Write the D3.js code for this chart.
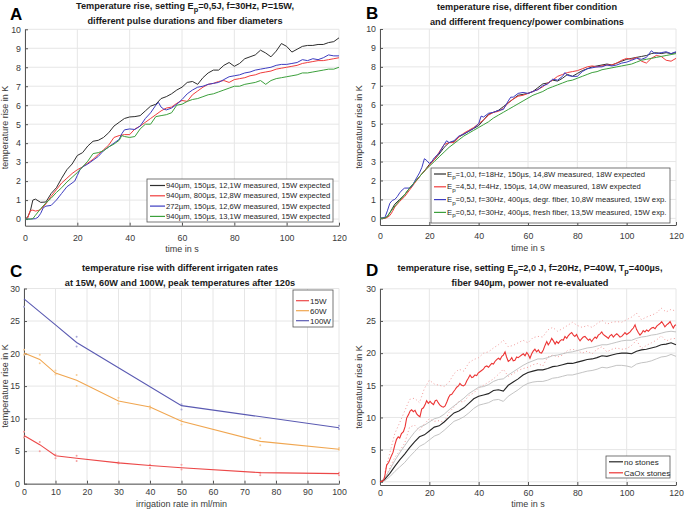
<!DOCTYPE html>
<html><head><meta charset="utf-8">
<script src="https://cdn.jsdelivr.net/npm/d3@7"></script>
<style>body{margin:0;background:#fff} text{font-family:"Liberation Sans",Arial,Helvetica,sans-serif}</style>
</head><body><svg id="c" width="685" height="510"></svg>
<script>
// ---------- DATA ----------
const timeTicks = [0,20,40,60,80,100,120];
const tempTicksAB = [0,1,2,3,4,5,6,7,8,9,10];
const tempTicksCD = [0,5,10,15,20,25,30];
const rateTicks = [0,10,20,30,40,50,60,70,80,90,100];

// Panel A
const aBlack = [[0,0],[1,0.1],[2,0.4],[3,1.0],[4,1.05],[6,0.88],[8,0.9],[10,1.35],[12,1.65],[14,2.15],[16,2.6],[18,2.9],[20,3.35],[22,3.5],[24,3.85],[26,4.1],[28,4.15],[30,4.3],[32,4.55],[34,4.9],[36,5.1],[38,5.3],[40,5.38],[42,5.4],[44,5.45],[46,5.7],[48,5.95],[50,6.05],[52,6.35],[54,6.45],[56,6.6],[58,6.8],[60,6.95],[62,7.2],[64,7.25],[66,7.1],[68,7.45],[70,7.7],[72,7.85],[74,7.85],[76,8.1],[78,8.25],[80,8.05],[82,8.2],[84,8.45],[86,8.55],[88,8.65],[90,8.9],[92,8.75],[94,8.55],[96,8.85],[98,9.25],[100,9.1],[102,8.8],[104,8.95],[106,9.1],[108,9.15],[110,9.15],[112,9.2],[114,9.2],[116,9.3],[118,9.35],[120,9.55]];
const aRed = [[0,0],[1,0.05],[2,0.45],[3,0.47],[4,0.42],[5,0.45],[6,0.5],[8,0.8],[10,1.2],[12,1.55],[14,1.9],[16,2.15],[18,2.4],[20,2.6],[22,2.75],[24,2.95],[26,3.15],[28,3.4],[30,3.65],[32,3.9],[34,4.3],[36,4.4],[38,4.45],[40,4.45],[42,4.75],[44,4.9],[46,5.1],[48,5.3],[50,5.5],[52,5.7],[54,5.85],[56,5.9],[58,6.1],[60,6.25],[62,6.2],[64,6.55],[66,6.75],[68,6.95],[70,7.1],[72,7.15],[74,7.25],[76,7.3],[78,7.2],[80,7.35],[82,7.4],[84,7.45],[86,7.55],[88,7.6],[90,7.7],[92,7.75],[94,7.8],[96,7.9],[98,7.95],[100,8.0],[102,8.05],[104,8.1],[106,8.2],[108,8.25],[110,8.3],[112,8.35],[114,8.35],[116,8.4],[118,8.45],[120,8.5]];
const aBlue = [[0,0],[2,0],[4,0.02],[5,0.1],[6,0.3],[7,0.6],[8,0.68],[10,0.72],[12,1.0],[14,1.35],[16,1.7],[18,1.9],[19,2.0],[20,2.3],[21,2.6],[22,2.75],[24,2.9],[26,3.1],[28,3.3],[30,3.6],[32,3.8],[34,4.0],[36,4.2],[37,4.5],[38,4.7],[40,4.75],[42,4.72],[44,4.9],[46,5.3],[48,5.6],[50,6.0],[51,6.15],[52,5.9],[53,5.8],[54,5.75],[56,5.85],[58,6.05],[60,6.3],[62,6.6],[64,6.8],[66,6.95],[68,7.0],[70,7.1],[72,7.15],[74,7.2],[76,7.35],[78,7.5],[80,7.55],[82,7.6],[84,7.7],[86,7.75],[88,7.85],[90,7.9],[92,7.95],[94,8.0],[96,8.1],[98,8.15],[100,8.15],[102,8.2],[104,8.25],[106,8.4],[108,8.35],[110,8.45],[112,8.4],[114,8.5],[116,8.65],[118,8.6],[120,8.6]];
const aGreen = [[0,0],[2,0],[3,0.02],[4,0.2],[6,0.55],[8,0.85],[10,1.1],[12,1.4],[14,1.65],[16,1.95],[18,2.2],[20,2.45],[22,2.75],[24,3.05],[26,3.45],[28,3.5],[30,3.6],[32,3.8],[34,3.95],[36,4.15],[37,4.4],[38,4.35],[40,4.3],[42,4.35],[44,4.75],[46,5.0],[48,5.0],[50,5.4],[52,5.45],[54,5.5],[56,5.6],[58,6.0],[60,6.05],[62,6.2],[64,6.3],[66,6.35],[68,6.45],[70,6.55],[72,6.6],[74,6.7],[76,6.8],[78,6.9],[80,7.0],[82,7.0],[84,7.1],[86,7.15],[88,7.2],[90,7.3],[92,7.1],[94,7.3],[96,7.4],[98,7.45],[100,7.5],[102,7.55],[104,7.6],[106,7.7],[108,7.7],[110,7.75],[112,7.8],[114,7.85],[116,7.9],[118,7.9],[120,8.0]];
const aLabels = ["940µm, 150µs, 12,1W measured, 15W expected","940µm, 800µs, 12,8W measured, 15W expected","272µm, 150µs, 12,6W measured, 15W expected","940µm, 150µs, 13,1W measured, 15W expected"];

// Panel B
const bBlack = [[0,0],[2,0.02],[3,0.1],[4,0.3],[6,0.75],[8,1.0],[10,1.25],[12,1.6],[14,1.9],[16,2.2],[18,2.5],[20,2.85],[22,3.1],[24,3.4],[26,3.75],[28,4.0],[30,4.05],[32,4.3],[34,4.45],[36,4.6],[38,4.75],[40,4.9],[42,5.2],[44,5.5],[46,5.6],[48,5.7],[50,5.9],[52,6.1],[54,6.3],[56,6.5],[58,6.55],[60,6.6],[62,6.7],[64,6.9],[66,7.1],[68,7.15],[70,7.3],[72,7.25],[74,7.4],[76,7.6],[78,7.5],[80,7.65],[82,7.8],[84,7.9],[86,8.0],[88,8.05],[90,8.1],[92,8.15],[94,8.1],[96,8.2],[98,8.3],[100,8.4],[102,8.45],[104,8.5],[106,8.55],[108,8.6],[110,8.7],[112,8.75],[114,8.7],[116,8.75],[118,8.7],[120,8.75]];
const bRed = [[0,0],[2,0],[3,0.05],[4,0.15],[5,0.35],[6,0.6],[8,0.9],[10,1.15],[12,1.5],[14,1.85],[16,2.2],[18,2.5],[20,2.8],[22,3.1],[24,3.5],[26,3.9],[28,4.0],[30,4.0],[32,4.3],[34,4.5],[36,4.65],[38,4.8],[40,5.0],[42,5.2],[44,5.45],[46,5.6],[48,5.65],[50,5.8],[52,6.1],[54,6.3],[56,6.45],[58,6.5],[60,6.6],[62,6.7],[64,6.8],[66,6.95],[68,7.15],[70,7.3],[72,7.5],[74,7.6],[76,7.7],[78,7.75],[80,7.8],[82,7.9],[84,8.0],[86,8.05],[88,8.0],[90,8.05],[92,8.1],[94,8.1],[96,8.2],[98,8.35],[100,8.45],[102,8.4],[104,8.5],[106,8.3],[108,8.2],[110,8.45],[112,8.6],[114,8.55],[116,8.35],[118,8.3],[120,8.45]];
const bBlue = [[0,0],[2,0.05],[3,0.4],[4,0.8],[5,0.95],[6,1.0],[7,1.15],[8,1.35],[9,1.5],[10,1.6],[12,1.6],[13,1.7],[14,1.95],[16,2.4],[17,2.7],[18,3.15],[19,3.05],[20,2.9],[21,3.0],[22,3.2],[24,3.45],[26,3.9],[27,4.1],[28,4.0],[30,4.1],[32,4.35],[34,4.45],[36,4.6],[38,4.75],[40,5.0],[41,5.4],[42,5.35],[44,5.55],[46,5.6],[48,5.7],[50,5.75],[52,6.2],[53,6.4],[54,6.4],[56,6.6],[58,6.65],[60,6.6],[62,6.7],[64,6.8],[66,7.0],[68,7.1],[70,7.35],[72,7.3],[74,7.5],[75,7.7],[76,7.55],[78,7.5],[80,7.5],[82,7.75],[84,7.9],[86,7.95],[88,8.0],[90,8.0],[92,8.1],[94,8.05],[96,8.1],[98,8.2],[100,8.25],[102,8.35],[104,8.45],[106,8.4],[108,8.5],[110,8.85],[111,8.75],[112,8.7],[114,8.75],[116,8.8],[118,8.7],[120,8.8]];
const bGreen = [[0,0],[2,0.02],[3,0.1],[4,0.3],[6,0.65],[8,0.95],[10,1.25],[12,1.6],[14,1.9],[16,2.2],[18,2.5],[20,2.75],[22,3.0],[24,3.25],[26,3.5],[28,3.75],[30,3.95],[32,4.15],[34,4.35],[36,4.5],[38,4.65],[40,4.8],[42,4.95],[44,5.1],[46,5.3],[48,5.45],[50,5.6],[52,5.75],[54,5.9],[56,6.05],[58,6.2],[60,6.35],[62,6.5],[64,6.6],[66,6.7],[68,6.85],[70,6.95],[72,7.05],[74,7.15],[76,7.25],[78,7.3],[80,7.4],[82,7.5],[84,7.6],[86,7.7],[88,7.75],[90,7.85],[92,7.9],[94,7.95],[96,8.0],[98,8.05],[100,8.1],[102,8.15],[104,8.25],[106,8.35],[108,8.4],[110,8.45],[112,8.5],[114,8.55],[116,8.6],[118,8.65],[120,8.7]];
const bLabels = [
  ["E", "p", "=1,0J, f=18Hz, 150µs, 14,8W measured, 18W expected"],
  ["E", "p", "=4,5J, f=4Hz, 150µs, 14,0W measured, 18W expected"],
  ["E", "p", "=0,5J, f=30Hz, 400µs, degr. fiber, 10,8W measured, 15W exp."],
  ["E", "p", "=0,5J, f=30Hz, 400µs, fresh fiber, 13,5W measured, 15W exp."]];

// Panel C
const cRates = [0,5,10,16.7,30,40,50,75,100];
const c15 = [7.4,6.0,4.3,3.9,3.2,2.8,2.45,1.7,1.55];
const c60 = [20.1,19.1,17.0,15.9,12.7,11.8,9.6,6.5,5.3];
const c100Rates = [0,10,16.7,50,100];
const c100 = [28.4,24.4,21.7,12.0,8.6];
const c15pts = [[0,8.0],[0,7.1],[5,6.4],[5,5.0],[10,4.5],[10,3.9],[16.7,4.3],[16.7,3.5],[30,3.3],[30,3.1],[40,2.9],[40,2.4],[50,2.9],[50,2.2],[75,1.7],[75,1.3],[100,1.7],[100,1.3]];
const c60pts = [[0,20.6],[0,19.8],[5,19.8],[5,18.5],[10,17.4],[10,16.8],[16.7,16.7],[16.7,15.0],[30,13.2],[30,12.3],[40,11.9],[40,11.5],[50,9.8],[50,9.1],[75,7.0],[75,5.9],[100,5.5],[100,5.2]];
const c100pts = [[0,27.2],[16.7,22.6],[16.7,21.1],[50,12.2],[50,11.4],[100,8.9],[100,8.4]];
const cLabels = ["15W","60W","100W"];

// Panel D
const dBlack = [[0,0],[1,0.1],[2,0.4],[4,1.3],[6,2.4],[8,3.4],[10,4.3],[12,5.3],[14,6.2],[16,7.0],[18,7.3],[20,7.9],[22,8.5],[24,8.7],[26,9.3],[28,10.0],[30,10.7],[32,11.0],[34,11.5],[36,12.2],[38,12.9],[40,13.3],[42,13.5],[44,13.7],[46,14.2],[48,14.3],[50,14.1],[52,15.0],[54,15.5],[56,16.0],[58,16.6],[60,17.0],[62,17.2],[64,17.4],[66,17.4],[68,17.6],[70,17.9],[72,18.0],[74,18.2],[76,18.4],[78,18.4],[80,18.6],[82,18.8],[84,19.0],[86,19.1],[88,19.3],[90,19.6],[92,19.5],[94,19.7],[96,19.9],[98,20.0],[100,20.0],[102,19.9],[104,20.3],[106,20.5],[108,20.6],[110,20.8],[112,21.0],[114,21.3],[116,21.4],[118,21.6],[120,21.3]];
const dGrayHi = [[0,0],[2,0.6],[4,1.9],[6,3.3],[8,4.5],[10,5.6],[12,6.7],[14,7.7],[16,8.5],[18,8.8],[20,9.3],[22,9.8],[24,10.0],[26,10.5],[28,11.2],[30,11.8],[32,12.4],[34,13.0],[36,13.7],[38,14.2],[40,14.7],[42,14.8],[44,15.1],[46,15.6],[48,15.9],[50,16.0],[52,16.6],[54,17.1],[56,17.6],[58,18.1],[60,18.5],[62,18.8],[64,19.1],[66,19.1],[68,19.3],[70,19.6],[72,19.7],[74,19.9],[76,20.1],[78,20.2],[80,20.4],[82,20.6],[84,20.8],[86,20.9],[88,21.1],[90,21.3],[92,21.3],[94,21.5],[96,21.7],[98,21.9],[100,22.0],[102,22.0],[104,22.3],[106,22.5],[108,22.6],[110,22.8],[112,22.9],[114,23.1],[116,23.3],[118,23.4],[120,23.3]];
const dGrayLo = [[0,0],[2,0.2],[4,0.8],[6,1.6],[8,2.3],[10,3.0],[12,3.9],[14,4.7],[16,5.5],[18,5.9],[20,6.5],[22,7.1],[24,7.4],[26,8.0],[28,8.7],[30,9.4],[32,9.7],[34,10.1],[36,10.7],[38,11.4],[40,11.9],[42,12.1],[44,12.3],[46,12.7],[48,12.8],[50,12.5],[52,13.3],[54,13.8],[56,14.3],[58,14.9],[60,15.3],[62,15.5],[64,15.6],[66,15.6],[68,15.8],[70,16.1],[72,16.2],[74,16.4],[76,16.6],[78,16.6],[80,16.8],[82,17.0],[84,17.2],[86,17.3],[88,17.5],[90,17.8],[92,17.7],[94,17.9],[96,18.1],[98,18.1],[100,18.0],[102,17.8],[104,18.3],[106,18.5],[108,18.6],[110,18.8],[112,19.1],[114,19.4],[116,19.5],[118,19.8],[120,19.5]];
const dRed = [[0,0],[1,0.1],[1.5,0.3],[2,1.0],[2.7,2.6],[3.5,3.0],[4.7,4.1],[5.3,4.6],[6,5.7],[6.7,6.6],[7.4,7.0],[8,6.8],[8.7,7.5],[9.5,7.8],[10.2,8.6],[10.8,9.9],[11.5,10.4],[12.2,11.0],[12.8,11.2],[13.5,10.9],[14.2,11.1],[14.8,10.6],[15.5,10.3],[16.2,10.1],[16.9,11.3],[17.6,11.5],[18.3,12.0],[18.9,12.6],[19.6,12.2],[20.3,12.5],[21,12.2],[21.7,12.0],[22.4,12.6],[23,12.7],[23.6,12.3],[24.3,11.9],[25,11.7],[25.7,11.6],[26.4,11.8],[27.1,12.4],[27.8,13.1],[28.4,13.5],[29.1,13.6],[29.8,14.0],[30.4,14.3],[31.1,14.7],[31.8,14.9],[32.4,15.3],[33.1,15.0],[33.8,14.9],[34.5,15.1],[35.2,15.7],[35.8,16.1],[36.5,16.6],[37.2,16.2],[37.8,16.3],[38.5,16.6],[39.2,16.5],[39.8,16.9],[40.5,17.1],[41.2,17.3],[41.9,17.5],[42.6,17.9],[43.3,18.0],[44,17.8],[44.6,18.1],[45.3,18.4],[46,18.3],[46.6,18.7],[47.3,19.0],[48,19.2],[48.7,19.0],[49.4,19.5],[50,19.7],[50.7,20.2],[51.3,19.4],[52,18.7],[52.7,18.9],[53.4,19.3],[54,18.8],[54.7,18.9],[55.4,19.4],[56,19.3],[56.7,19.5],[57.4,19.7],[58.1,19.9],[58.8,19.6],[59.5,20.1],[60.1,19.8],[60.8,19.2],[61.5,19.9],[62.1,20.3],[62.8,20.6],[63.5,20.2],[64.2,20.5],[64.8,20.1],[65.5,20.0],[66.2,20.5],[66.9,21.2],[67.6,21.8],[68.2,21.3],[68.9,21.7],[69.6,22.3],[70.3,21.9],[71,21.4],[71.6,21.8],[72.3,21.5],[73,21.9],[73.7,22.1],[74.3,22.0],[75,22.6],[75.7,22.3],[76.3,22.7],[77,23.0],[77.7,23.2],[78.4,22.8],[79,22.6],[79.7,22.9],[80.4,22.3],[81.1,21.9],[81.7,22.2],[82.4,22.5],[83.1,22.6],[83.8,22.3],[84.5,22.0],[85.1,22.2],[85.8,21.8],[86.5,22.2],[87.2,22.5],[87.8,22.3],[88.5,22.8],[89.2,23.0],[89.9,23.3],[90.5,22.9],[91.2,22.7],[91.9,22.5],[92.6,22.3],[93.2,22.7],[93.9,22.9],[94.6,22.5],[95.3,22.8],[96,23.0],[96.6,22.8],[97.3,22.5],[98,22.6],[98.7,22.9],[99.3,23.2],[100,22.9],[100.7,23.1],[101.4,23.3],[102,23.6],[102.7,23.9],[103.4,24.4],[104,23.7],[104.7,23.2],[105.4,22.8],[106.1,23.1],[106.7,23.5],[107.4,23.3],[108.1,23.6],[108.8,23.4],[109.5,23.7],[110.1,23.9],[110.8,24.0],[111.5,23.8],[112.2,24.2],[112.8,24.4],[113.5,24.6],[114.2,24.9],[114.9,24.5],[115.5,24.1],[116.2,24.4],[116.9,24.6],[117.6,24.9],[118.2,24.4],[118.9,23.9],[119.5,24.3],[120,24.4]];
const dRedHi = [[2,1.5],[4,4.5],[6,7.5],[8,9.2],[10,11.0],[12,12.8],[14,13.0],[16,12.3],[18,14.5],[20,15.8],[22,15.2],[24,15.0],[26,14.8],[28,15.5],[30,16.8],[32,17.5],[34,17.2],[36,18.5],[38,19.0],[40,19.3],[42,20.0],[44,20.2],[46,20.8],[48,21.3],[50,22.0],[52,21.0],[54,21.2],[56,21.6],[58,22.0],[60,21.6],[62,22.4],[64,22.6],[66,22.5],[68,23.6],[70,24.0],[72,23.4],[74,23.8],[76,24.3],[78,24.8],[80,24.3],[82,24.0],[84,24.3],[86,24.0],[88,24.6],[90,25.1],[92,24.5],[94,24.8],[96,24.9],[98,24.8],[100,25.2],[102,25.6],[104,26.2],[106,25.2],[108,25.6],[110,25.9],[112,26.2],[114,27.0],[116,26.4],[118,26.8],[120,26.5]];
const dRedLo = [[2,0.5],[4,2.2],[6,3.8],[8,4.8],[10,6.0],[12,8.5],[14,8.8],[16,8.0],[18,9.0],[20,9.8],[22,9.4],[24,9.5],[26,9.2],[28,10.8],[30,11.6],[32,12.5],[34,12.4],[36,13.4],[38,13.8],[40,14.6],[42,15.0],[44,15.5],[46,16.0],[48,16.7],[50,17.5],[52,16.4],[54,16.8],[56,17.3],[58,17.6],[60,17.8],[62,18.2],[64,18.4],[66,18.0],[68,19.4],[70,19.7],[72,19.4],[74,19.7],[76,20.4],[78,20.6],[80,20.4],[82,20.0],[84,20.3],[86,19.9],[88,20.6],[90,21.0],[92,20.2],[94,20.6],[96,20.8],[98,20.6],[100,20.7],[102,21.2],[104,22.0],[106,20.7],[108,21.2],[110,21.6],[112,22.0],[114,22.7],[116,21.9],[118,22.2],[120,22.3]];
const dLabels = ["no stones","CaOx stones"];

// ---------- DRAWING ----------
const svg = d3.select("#c");
const FONT = '"Liberation Sans",Arial,Helvetica,sans-serif';
const AX = "#555555", TXT = "#3a3a3a";

function rich(t, parts, size) {
  // parts: strings; odd-index entries are subscripts
  parts.forEach((p, i) => {
    const ts = t.append("tspan").text(p);
    if (i % 2 === 1) ts.attr("dy", size*0.3).attr("font-size", size*0.8);
    else if (i > 0) ts.attr("dy", -size*0.3);
  });
}

function panel(o) {
  const g = svg.append("g");
  const x = d3.scaleLinear().domain(o.xDomain).range([o.left, o.right]);
  const y = d3.scaleLinear().domain(o.yDomain).range([o.bottom, o.top]);
  g.append("g").selectAll("line").data(o.xTicks).join("line")
    .attr("x1", d => x(d)).attr("x2", d => x(d)).attr("y1", o.top).attr("y2", o.bottom)
    .attr("stroke", "#e6e6e6").attr("stroke-width", 1);
  g.append("g").selectAll("line").data(o.yTicks).join("line")
    .attr("x1", o.left).attr("x2", o.right).attr("y1", d => y(d)).attr("y2", d => y(d))
    .attr("stroke", "#e6e6e6").attr("stroke-width", 1);
  const xa = g.append("g").attr("transform", `translate(0,${o.bottom})`)
    .call(d3.axisBottom(x).tickValues(o.xTicks).tickSize(-3).tickSizeOuter(0).tickPadding(o.xPad));
  const ya = g.append("g").attr("transform", `translate(${o.left},0)`)
    .call(d3.axisLeft(y).tickValues(o.yTicks).tickSize(-3).tickSizeOuter(0).tickPadding(4));
  [xa, ya].forEach(a => {
    a.select(".domain").attr("stroke", AX);
    a.selectAll(".tick line").attr("stroke", AX);
    a.selectAll(".tick text").attr("fill", TXT).attr("font-size", 8.8).attr("font-family", FONT);
  });
  g.append("text").attr("x", (o.left + o.right)/2).attr("y", o.xLabelY).attr("text-anchor", "middle")
    .attr("font-size", 9).attr("fill", TXT).text(o.xLabel);
  g.append("text").attr("transform", `translate(${o.yLabelX},${(o.top + o.bottom)/2}) rotate(-90)`)
    .attr("text-anchor", "middle").attr("font-size", 9).attr("fill", TXT).text(o.yLabel);
  // title
  o.title.forEach((parts, i) => {
    const t = g.append("text").attr("x", o.titleX).attr("y", o.titleY + i*14.5)
      .attr("text-anchor", "middle").attr("font-size", 9.2).attr("font-weight", "bold").attr("fill", "#1a1a1a");
    rich(t, parts, 9.2);
  });
  g.append("text").attr("x", o.letterX).attr("y", o.letterY).attr("font-size", 17)
    .attr("font-weight", "bold").attr("fill", "#000").text(o.letter);
  return {g, x, y};
}

const line = (x, y) => d3.line().x(d => x(d[0])).y(d => y(d[1]));

function legend(g, box, rows, rowH, sampleLen, fs) {
  const lg = g.append("g");
  lg.append("rect").attr("x", box[0]).attr("y", box[1]).attr("width", box[2]).attr("height", box[3])
    .attr("fill", "#fff").attr("stroke", "#555").attr("stroke-width", 0.8);
  rows.forEach((r, i) => {
    const cy = box[1] + box[4] + i*rowH;
    lg.append("line").attr("x1", box[0] + 3).attr("x2", box[0] + 3 + sampleLen)
      .attr("y1", cy).attr("y2", cy).attr("stroke", r.color).attr("stroke-width", 1.2);
    const t = lg.append("text").attr("x", box[0] + 4 + sampleLen).attr("y", cy + fs*0.35)
      .attr("font-size", fs).attr("fill", "#262626");
    if (Array.isArray(r.label)) rich(t, r.label, fs); else t.text(r.label);
  });
}

// Panel A
{
  const p = panel({left:25, right:339, top:29.3, bottom:225.7, xDomain:[0,120], yDomain:[-0.35,10],
    xTicks:timeTicks, yTicks:tempTicksAB, xPad:9, xLabel:"time in s", xLabelY:252,
    yLabel:"temperature rise in K", yLabelX:7.5,
    title:[["Temperature rise, setting E","p","=0,5J, f=30Hz, P=15W,"],["different pulse durations and fiber diameters"]],
    titleX:185, titleY:9, letter:"A", letterX:10, letterY:20});
  const cols = ["#2e2e2e","#f03c3c","#3c3cc0","#3ca03c"];
  [aBlack, aRed, aBlue, aGreen].forEach((s, i) => p.g.append("path").datum(s).attr("d", line(p.x, p.y))
    .attr("fill", "none").attr("stroke", cols[i]).attr("stroke-width", 1));
  legend(p.g, [147,179,186,43,6.5], aLabels.map((l, i) => ({label:l, color:cols[i]})), 10.3, 15, 7.65);
}
// Panel B
{
  const p = panel({left:380, right:676, top:29, bottom:225, xDomain:[0,120], yDomain:[-0.35,10],
    xTicks:timeTicks, yTicks:tempTicksAB, xPad:8, xLabel:"time in s", xLabelY:251,
    yLabel:"temperature rise in K", yLabelX:362,
    title:[["temperature rise, different fiber condition"],["and different frequency/power combinations"]],
    titleX:527, titleY:10, letter:"B", letterX:366, letterY:19});
  const cols = ["#2e2e2e","#f03c3c","#3c3cc0","#3ca03c"];
  [bBlack, bRed, bBlue, bGreen].forEach((s, i) => p.g.append("path").datum(s).attr("d", line(p.x, p.y))
    .attr("fill", "none").attr("stroke", cols[i]).attr("stroke-width", 1));
  legend(p.g, [431,168,239,55,6], bLabels.map((l, i) => ({label:l, color:cols[i]})), 12.8, 12, 7.7);
}
// Panel C
{
  const p = panel({left:24, right:339, top:288.5, bottom:483.7, xDomain:[0,100], yDomain:[0,30],
    xTicks:rateTicks, yTicks:tempTicksCD, xPad:5, xLabel:"irrigation rate in ml/min", xLabelY:507,
    yLabel:"temperature rise in K", yLabelX:8,
    title:[["temperature rise with different irrigaten rates"],["at 15W, 60W and 100W, peak temperatures after 120s"]],
    titleX:180, titleY:271, letter:"C", letterX:10, letterY:277});
  const cols = ["#ec4848","#f0a650","#5a5ab2"];
  const lite = ["#f5a0a0","#f7cf9c","#a8a8d8"];
  [[c15pts,0],[c60pts,1],[c100pts,2]].forEach(([pts,i]) => p.g.append("g").selectAll("circle").data(pts).join("circle")
    .attr("cx", d => p.x(d[0])).attr("cy", d => p.y(d[1])).attr("r", 1).attr("fill", lite[i]));
  [[cRates,c15],[cRates,c60],[c100Rates,c100]].forEach(([xs, ys], i) =>
    p.g.append("path").datum(xs.map((v, j) => [v, ys[j]])).attr("d", line(p.x, p.y))
      .attr("fill", "none").attr("stroke", cols[i]).attr("stroke-width", 1.1));
  legend(p.g, [293,290,40,37,10.7], cLabels.map((l, i) => ({label:l, color:cols[i]})), 10, 13, 8);
}
// Panel D
{
  const p = panel({left:380, right:676, top:288.8, bottom:485, xDomain:[0,120], yDomain:[-0.5,30],
    xTicks:timeTicks, yTicks:tempTicksCD, xPad:5, xLabel:"time in s", xLabelY:507,
    yLabel:"temperature rise in K", yLabelX:362,
    title:[["temperature rise, setting E","p","=2,0 J, f=20Hz, P=40W, T","p","=400µs,"],["fiber 940µm, power not re-evaluated"]],
    titleX:530, titleY:271, letter:"D", letterX:366, letterY:276});
  [dRedHi, dRedLo].forEach(s => p.g.append("path").datum(s).attr("d", line(p.x, p.y))
    .attr("fill", "none").attr("stroke", "#f29a9a").attr("stroke-width", 1).attr("stroke-dasharray", "1,2.5"));
  [dGrayHi, dGrayLo].forEach(s => p.g.append("path").datum(s).attr("d", line(p.x, p.y))
    .attr("fill", "none").attr("stroke", "#bcbcbc").attr("stroke-width", 0.9));
  p.g.append("path").datum(dBlack).attr("d", line(p.x, p.y)).attr("fill", "none").attr("stroke", "#262626").attr("stroke-width", 1.1);
  p.g.append("path").datum(dRed).attr("d", line(p.x, p.y)).attr("fill", "none").attr("stroke", "#ec3434").attr("stroke-width", 1.1);
  legend(p.g, [606,456,64,22,5.8], [{label:dLabels[0], color:"#262626"},{label:dLabels[1], color:"#ec3434"}], 11, 14, 8);
}
</script></body></html>
